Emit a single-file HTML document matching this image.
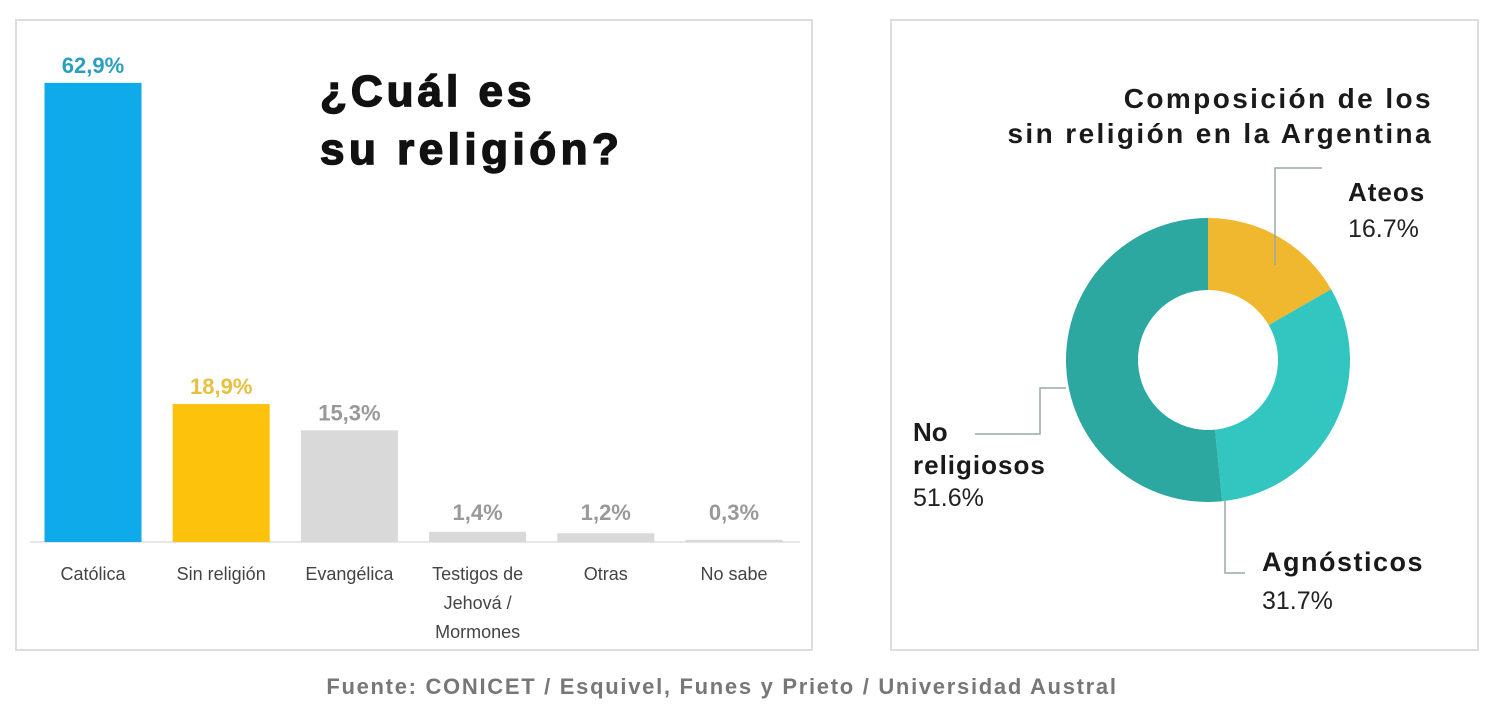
<!DOCTYPE html>
<html><head><meta charset="utf-8"><style>
body{margin:0;background:#fff;width:1500px;height:718px;overflow:hidden;font-family:"Liberation Sans",sans-serif}
svg{display:block}
</style></head><body>
<svg width="1500" height="718" viewBox="0 0 1500 718">
<rect x="16" y="20" width="796" height="630" fill="#fff" stroke="#ddd" stroke-width="2"/>
<rect x="891" y="20" width="587" height="630" fill="#fff" stroke="#ddd" stroke-width="2"/>
<text x="320" y="106" font-size="44" font-weight="bold" fill="#111" stroke="#111" stroke-width="1.5" letter-spacing="4">¿Cuál es</text>
<text x="320" y="164" font-size="44" font-weight="bold" fill="#111" stroke="#111" stroke-width="1.5" letter-spacing="4.5">su religión?</text>
<line x1="30" y1="542" x2="800" y2="542" stroke="#e6e6e6" stroke-width="2"/>
<g id="bars"></g>
<text x="1433" y="108" font-size="28" font-weight="bold" fill="#1a1a1a" text-anchor="end" letter-spacing="2.4">Composición de los</text>
<text x="1433" y="143" font-size="28" font-weight="bold" fill="#1a1a1a" text-anchor="end" letter-spacing="2.4">sin religión en la Argentina</text>
<g id="donut"></g>
<g fill="none" stroke="#9aa" stroke-width="1.5">
<polyline points="1275,265 1275,168 1322,168"/>
<polyline points="1066,388 1040,388 1040,434 975,434"/>
<polyline points="1225,500 1225,573 1245,573"/>
</g>
<text x="1348" y="201" font-size="26" font-weight="bold" fill="#1a1a1a" letter-spacing="1">Ateos</text>
<text x="1348" y="237" font-size="25" fill="#222">16.7%</text>
<text x="1262" y="571" font-size="27" font-weight="bold" fill="#1a1a1a" letter-spacing="1.5">Agnósticos</text>
<text x="1262" y="609" font-size="25" fill="#222">31.7%</text>
<text x="913" y="441" font-size="26" font-weight="bold" fill="#1a1a1a">No</text>
<text x="913" y="474" font-size="26" font-weight="bold" fill="#1a1a1a" letter-spacing="1">religiosos</text>
<text x="913" y="506" font-size="25" fill="#222">51.6%</text>
<text x="722" y="694" font-size="22" font-weight="bold" fill="#777" text-anchor="middle" letter-spacing="1.7">Fuente: CONICET / Esquivel, Funes y Prieto / Universidad Austral</text>
</svg>
<script>
const categories=["Católica","Sin religión","Evangélica","Testigos de|Jehová /|Mormones","Otras","No sabe"];
const values=[62.9,18.9,15.3,1.4,1.2,0.3];
const valueLabels=["62,9%","18,9%","15,3%","1,4%","1,2%","0,3%"];
const barColors=["#0faaea","#fdc20b","#d9d9d9","#d9d9d9","#d9d9d9","#d9d9d9"];
const labelColors=["#2a9fc0","#e8c040","#999","#999","#999","#999"];
const donutLabels=["Ateos","Agnósticos","No religiosos"];
const donutValues=[16.7,31.7,51.6];
const donutColors=["#efb82f","#33c6c0","#2ca8a0"];
const NS="http://www.w3.org/2000/svg";
const base=542, scale=7.3, x0=93, step=128.2, bw=97;
const yS=v=>base-v*scale, xS=i=>x0+i*step;
const g=document.getElementById('bars');
values.forEach((v,i)=>{
 const r=document.createElementNS(NS,'rect');
 r.setAttribute('x',xS(i)-bw/2);r.setAttribute('y',yS(v));r.setAttribute('width',bw);r.setAttribute('height',Math.max(base-yS(v),2));r.setAttribute('fill',barColors[i]);
 
 
 g.appendChild(r);
 const t=document.createElementNS(NS,'text');
 t.setAttribute('x',xS(i));t.setAttribute('y',Math.min(yS(v),base-12)-10);t.setAttribute('text-anchor','middle');t.setAttribute('font-size','22');t.setAttribute('font-weight','bold');t.setAttribute('fill',labelColors[i]);
 t.textContent=valueLabels[i];
 
 
 g.appendChild(t);
 categories[i].split('|').forEach((ln,k)=>{
  const c=document.createElementNS(NS,'text');
  c.setAttribute('x',xS(i));c.setAttribute('y',580+k*29);c.setAttribute('text-anchor','middle');c.setAttribute('font-size','18');c.setAttribute('fill','#444');
  c.textContent=ln;
  
  
  g.appendChild(c);
 });
});
const cx=1208,cy=360,R=142,r0=70;const dg=document.getElementById('donut');
const tot=donutValues.reduce((a,b)=>a+b,0);let acc=0;
const pt=(a,rad)=>[cx+rad*Math.sin(a),cy-rad*Math.cos(a)];
donutValues.forEach((v,i)=>{
 const a0=acc/tot*2*Math.PI;acc+=v;const a1=acc/tot*2*Math.PI;const lg=(a1-a0)>Math.PI?1:0;
 const p1=pt(a0,R),p2=pt(a1,R),p3=pt(a1,r0),p4=pt(a0,r0);
 const p=document.createElementNS(NS,'path');
 p.setAttribute('d',`M${p1}A${R},${R} 0 ${lg} 1 ${p2}L${p3}A${r0},${r0} 0 ${lg} 0 ${p4}Z`);
 p.setAttribute('fill',donutColors[i]);
 
 
 dg.appendChild(p);
});
</script>
</body></html>
